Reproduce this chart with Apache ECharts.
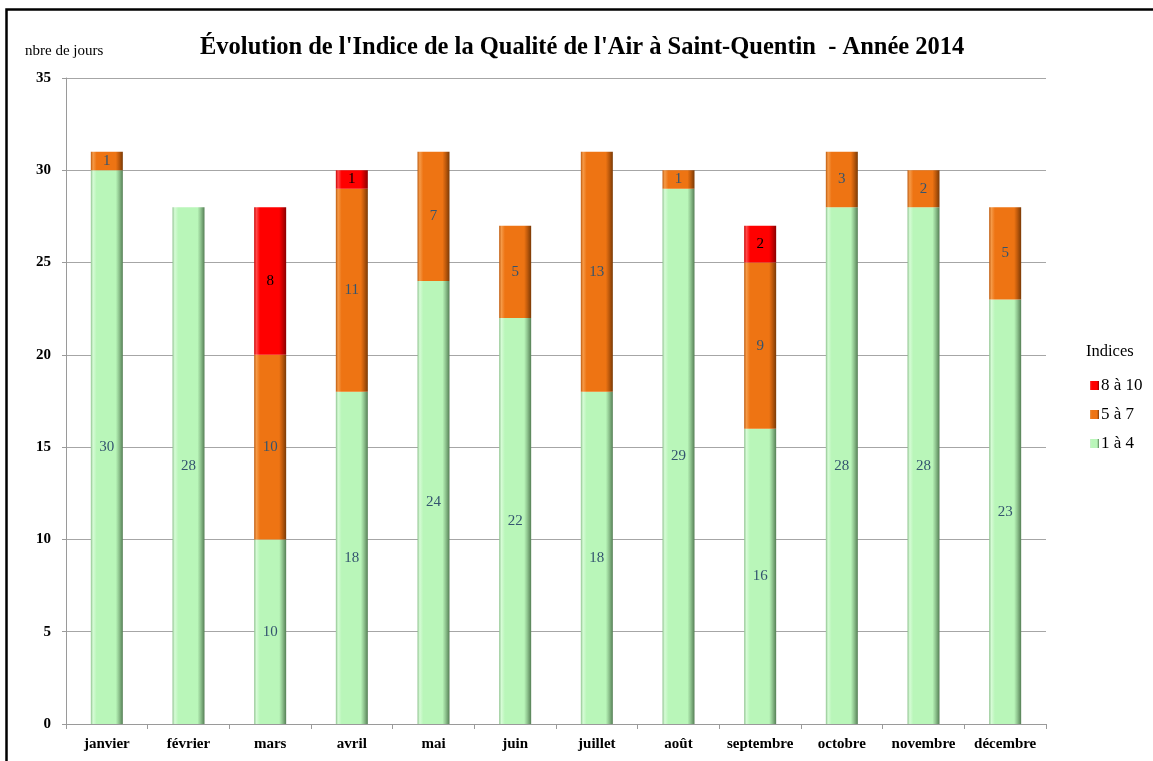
<!DOCTYPE html>
<html>
<head>
<meta charset="utf-8">
<style>
  html, body { margin: 0; padding: 0; background: #fff; }
  #chart { width: 1153px; height: 761px; }
</style>
<script src="https://cdn.jsdelivr.net/npm/echarts@6/dist/echarts.min.js"></script>
</head>
<body>
<div id="chart"></div>
<script>
// Monthly count of days per air-quality index class, Saint-Quentin 2014
const months = ['janvier', 'février', 'mars', 'avril', 'mai', 'juin', 'juillet', 'août', 'septembre', 'octobre', 'novembre', 'décembre'];
const indices1to4 = [30, 28, 10, 18, 24, 22, 18, 29, 16, 28, 28, 23];
const indices5to7 = [1, 0, 10, 11, 7, 5, 13, 1, 9, 3, 2, 5];
const indices8to10 = [0, 0, 8, 1, 0, 0, 0, 0, 2, 0, 0, 0];
const yTicks = [0, 5, 10, 15, 20, 25, 30, 35];

const serif = "'Liberation Serif', 'Times New Roman', serif";

// Bevel-like horizontal shading for each bar segment
function bevel(light, base, mid, dark) {
  return new echarts.graphic.LinearGradient(0, 0, 1, 0, [
    { offset: 0, color: mid },
    { offset: 0.07, color: light },
    { offset: 0.18, color: base },
    { offset: 0.78, color: base },
    { offset: 0.88, color: mid },
    { offset: 1, color: dark }
  ]);
}

function valueLabel(color) {
  return {
    show: true,
    position: 'inside',
    fontFamily: serif,
    fontSize: 15,
    color: color,
    formatter: p => (p.value ? String(p.value) : '')
  };
}

const chart = echarts.init(document.getElementById('chart'));
chart.setOption({
  animation: false,
  backgroundColor: '#fff',
  title: [
    {
      text: "Évolution de l'Indice de la Qualité de l'Air à Saint-Quentin  - Année 2014",
      left: 195, top: 30,
      textStyle: { fontFamily: serif, fontWeight: 'bold', fontSize: 24.5, color: '#000' }
    },
    {
      text: 'nbre de jours',
      left: 20, top: 39,
      textStyle: { fontFamily: serif, fontWeight: 'normal', fontSize: 15, color: '#000' }
    },
    {
      text: 'Indices',
      left: 1081, top: 338,
      textStyle: { fontFamily: serif, fontWeight: 'normal', fontSize: 16.5, color: '#000' }
    }
  ],
  legend: {
    orient: 'vertical',
    left: 1085, top: 372,
    itemWidth: 9, itemHeight: 9,
    itemGap: 12,
    icon: 'rect',
    data: ['8 à 10', '5 à 7', '1 à 4'],
    textStyle: { fontFamily: serif, fontSize: 17, color: '#000', padding: [0, 0, 0, -3] }
  },
  grid: { left: 66, right: 107, top: 78, bottom: 37 },
  xAxis: {
    type: 'category',
    data: months,
    axisLine: { lineStyle: { color: '#9a9a9a', width: 1 } },
    axisTick: { show: true, interval: 0, length: 5, lineStyle: { color: '#9a9a9a' } },
    axisLabel: { interval: 0, fontFamily: serif, fontWeight: 'bold', fontSize: 15, color: '#000', margin: 13 }
  },
  yAxis: {
    type: 'value',
    min: yTicks[0], max: yTicks[yTicks.length - 1], interval: 5,
    axisLine: { show: true, lineStyle: { color: '#9a9a9a', width: 1 } },
    axisTick: { show: true, length: 4, lineStyle: { color: '#9a9a9a' } },
    splitLine: { lineStyle: { color: '#a6a6a6', width: 1 } },
    axisLabel: { fontFamily: serif, fontWeight: 'bold', fontSize: 15, color: '#000', margin: 15 }
  },
  series: [
    {
      name: '1 à 4', type: 'bar', stack: 'jours', barWidth: 32,
      data: indices1to4,
      itemStyle: { color: bevel('#d6fbd6', '#b9f6b9', '#8fc48f', '#557f55') },
      label: valueLabel('#34546f')
    },
    {
      name: '5 à 7', type: 'bar', stack: 'jours', barWidth: 32,
      data: indices5to7,
      itemStyle: { color: bevel('#f59a48', '#ee7413', '#bf5a0c', '#7a3a06') },
      label: valueLabel('#34546f')
    },
    {
      name: '8 à 10', type: 'bar', stack: 'jours', barWidth: 32,
      data: indices8to10,
      itemStyle: { color: bevel('#ff4a4a', '#ff0000', '#cc0000', '#8a0000') },
      label: valueLabel('#000')
    }
  ],
  graphic: [
    {
      type: 'rect', silent: true, z: 100,
      shape: { x: 6.5, y: 9.5, width: 2000, height: 2000 },
      style: { fill: 'none', stroke: '#000', lineWidth: 2.5 }
    }
  ]
});
</script>
</body>
</html>
